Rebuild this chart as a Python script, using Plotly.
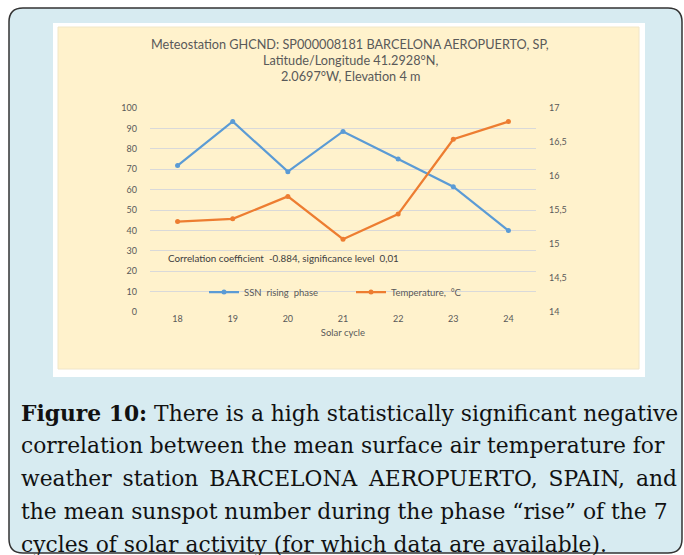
import plotly.graph_objects as go

# data
cycles = ["18", "19", "20", "21", "22", "23", "24"]
ssn_rising = [71.8, 93.4, 68.8, 88.5, 75.0, 61.4, 39.9]
temperature = [15.33, 15.37, 15.70, 15.07, 15.44, 16.54, 16.80]

title_lines = ["Meteostation GHCND: SP000008181 BARCELONA AEROPUERTO, SP,",
               "Latitude/Longitude 41.2928°N,",
               "2.0697°W, Elevation 4 m"]
caption_lines = ["<b>Figure 10:</b> There is a high statistically significant negative",
                 "correlation between the mean surface air temperature for",
                 "weather station BARCELONA AEROPUERTO, SPAIN, and",
                 "the mean sunspot number during the phase “rise” of the 7",
                 "cycles of solar activity (for which data are available)."]

W, H = 684, 555
L, R, T, B = 150, 536, 108, 312

def px(x):
    return (x - L) / (R - L)

def py(y):
    return (B - y) / (B - T)

BLUE = "#5b9bd5"
ORANGE = "#ed7d31"
GREY = "#595959"
FONT = "Lato"
CAP_FONT = dict(family="DejaVu Serif", size=21.8, color="#111111")

fig = go.Figure()
fig.add_trace(go.Scatter(x=cycles, y=ssn_rising, name="SSN  rising  phase",
                         mode="lines+markers", line=dict(color=BLUE, width=2.25),
                         marker=dict(size=5, color=BLUE)))
fig.add_trace(go.Scatter(x=cycles, y=temperature, name="Temperature,  °C", yaxis="y2",
                         mode="lines+markers", line=dict(color=ORANGE, width=2.25),
                         marker=dict(size=5, color=ORANGE)))

shapes = []
# outer rounded panel
x0, x1, y0, y1, r = px(9), px(682), py(8), py(553), 14
rx, ry = r / (R - L), r / (B - T)
path = (f"M {x0+rx},{y0} L {x1-rx},{y0} Q {x1},{y0} {x1},{y0-ry} "
        f"L {x1},{y1+ry} Q {x1},{y1} {x1-rx},{y1} L {x0+rx},{y1} "
        f"Q {x0},{y1} {x0},{y1+ry} L {x0},{y0-ry} Q {x0},{y0} {x0+rx},{y0} Z")
shapes.append(dict(type="path", path=path, xref="paper", yref="paper",
                   fillcolor="#d7ebf1", line=dict(color="#333333", width=1.5), layer="below"))
# white frame and cream chart area
shapes.append(dict(type="rect", xref="paper", yref="paper", x0=px(53), x1=px(645), y0=py(23), y1=py(377),
                   fillcolor="white", line=dict(width=0), layer="below"))
shapes.append(dict(type="rect", xref="paper", yref="paper", x0=px(58), x1=px(639), y0=py(27), y1=py(369),
                   fillcolor="#fff2cc", line=dict(color="#f0e6c8", width=1), layer="below"))

annotations = []
for i, t in enumerate(title_lines):
    annotations.append(dict(text=t, xref="paper", yref="paper", x=px(350), y=py(44 + 16 * i),
                            xanchor="center", yanchor="middle", showarrow=False,
                            font=dict(family=FONT, size=12.7, color=GREY)))
annotations.append(dict(text="Correlation coefficient  -0.884, significance level  0,01",
                        xref="paper", yref="paper", x=px(166), y=py(258), xanchor="left", yanchor="middle",
                        showarrow=False, font=dict(family=FONT, size=9.8, color="#404040")))
for i, t in enumerate(caption_lines):
    yy = py(413 + 32.8 * i)
    if i == 2:
        # justified line in the original: left half and right half pinned to the edges
        words = t.split(" ")
        left = "\u2002".join(words[:3])
        right = "\u2002".join(words[3:])
        annotations.append(dict(text=left, xref="paper", yref="paper", x=px(19), y=yy,
                                xanchor="left", yanchor="middle", showarrow=False, font=CAP_FONT))
        annotations.append(dict(text=right, xref="paper", yref="paper", x=px(679), y=yy,
                                xanchor="right", yanchor="middle", showarrow=False, font=CAP_FONT))
    else:
        annotations.append(dict(text=t, xref="paper", yref="paper", x=px(19), y=yy,
                                xanchor="left", yanchor="middle", showarrow=False, font=CAP_FONT))

fig.update_layout(
    width=W, height=H,
    margin=dict(l=L, r=W - R, t=T, b=H - B),
    paper_bgcolor="white", plot_bgcolor="white",
    separators=",.",
    font=dict(family=FONT, size=9, color=GREY),
    shapes=shapes, annotations=annotations,
    xaxis=dict(type="category", range=[-0.5, 6.5], showgrid=False, showline=False, ticks="",
               tickfont=dict(size=9, color=GREY),
               title=dict(text="Solar cycle", font=dict(size=9.5, color=GREY), standoff=6)),
    yaxis=dict(range=[0, 100], dtick=10, showgrid=True, gridcolor="#d9d9d9", gridwidth=1,
               zeroline=False, showline=False, ticks="", tickfont=dict(size=9, color=GREY),
               ticklabelstandoff=12),
    yaxis2=dict(range=[14, 17], dtick=0.5, overlaying="y", side="right", showgrid=False,
                zeroline=False, showline=False, ticks="", tickfont=dict(size=9, color=GREY),
                ticklabelstandoff=12),
    legend=dict(orientation="h", x=px(204), y=py(292), xanchor="left", yanchor="middle",
                bgcolor="rgba(0,0,0,0)", font=dict(size=9.5, color=GREY),
                entrywidth=102, entrywidthmode="pixels", itemwidth=30),
)

fig.write_html("out.html", config={"displayModeBar": False},
               post_script="document.body.style.margin='0';")
